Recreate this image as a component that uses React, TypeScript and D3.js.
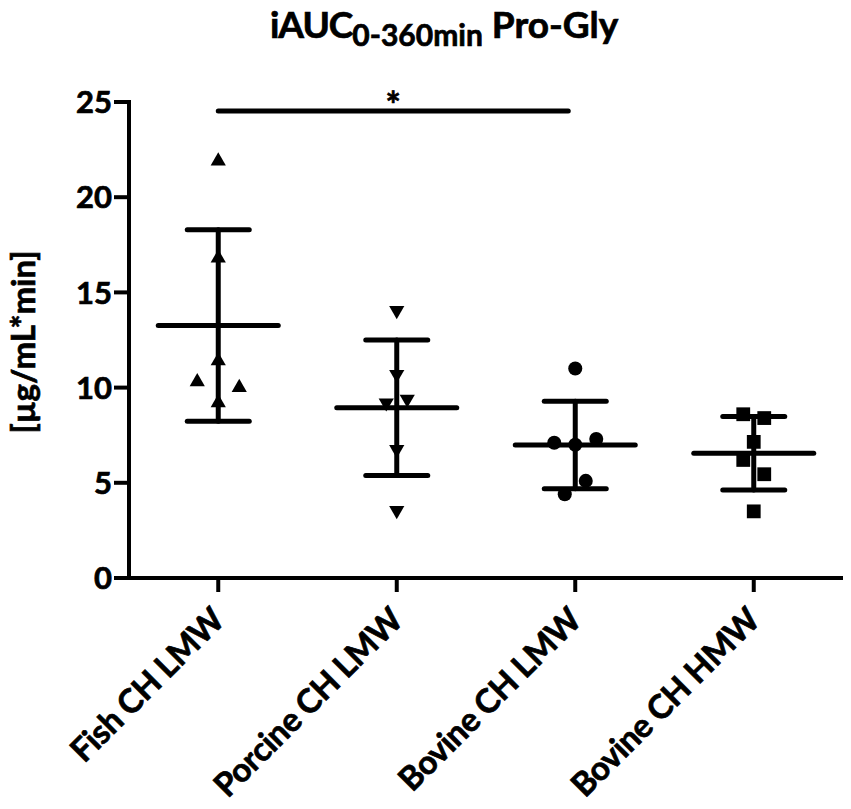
import { useEffect } from "react";
import * as d3 from "d3";

// categories along the x axis
const categories = ["Fish CH LMW", "Porcine CH LMW", "Bovine CH LMW", "Bovine CH HMW"];

// individual values per group (µg/mL*min)
const fishValues = [21.9, 16.8, 11.4, 9.2, 10.3, 10.0];
const porcineValues = [14.05, 10.7, 9.2, 9.4, 6.75, 3.55];
const bovineLmwValues = [11.0, 7.1, 7.0, 7.3, 5.1, 4.4];
const bovineHmwValues = [8.6, 8.4, 7.15, 6.2, 5.45, 3.5];

// scatter column each point sits in (GraphPad dodge)
const fishSlots = [0, 0, 0, 0, -2, 2];
const porcineSlots = [0, 0, -1, 1, 0, 0];
const bovineLmwSlots = [0, -2, 0, 2, 1, -1];
const bovineHmwSlots = [-1, 1, 0, -1, 1, 0];

const yTicks = [0, 5, 10, 15, 20, 25];

const W = 851;
const H = 809;
const FONT = "Lato, 'Open Sans', sans-serif";
// thin outline so Lato Bold gets closer to the heavy Calibri look
const heavy = { stroke: "#000", strokeWidth: 0.7, fill: "#000" };

const groups = [
  { values: fishValues, slots: fishSlots, symbol: d3.symbolTriangle, rotate: 0, size: 100 },
  { values: porcineValues, slots: porcineSlots, symbol: d3.symbolTriangle, rotate: 180, size: 100 },
  { values: bovineLmwValues, slots: bovineLmwSlots, symbol: d3.symbolCircle, rotate: 0, size: 155 },
  { values: bovineHmwValues, slots: bovineHmwSlots, symbol: d3.symbolSquare, rotate: 0, size: 190 },
];

export default function App() {
  useEffect(() => {
    document.body.style.margin = "0";
  }, []);

  const x = d3.scalePoint<string>().domain(categories).range([129, 843]).padding(0.5);
  const y = d3.scaleLinear().domain([0, 25]).range([578, 102]);
  const slotW = 10.5;

  const x0 = x.range()[0];
  const x1 = x.range()[1];
  const yBase = y(0);
  const sigStart = x(categories[0])!;
  const sigEnd = x(categories[2])! - 7;

  return (
    <svg width={W} height={H} style={{ display: "block", background: "#fff" }}>
      {/* title */}
      <text x={270} y={38} fontFamily={FONT} fontWeight={700} fontSize={37} {...heavy}>
        <tspan letterSpacing={-1}>iAUC</tspan>
        <tspan fontSize={30} dy={8}>0-360min</tspan>
        <tspan dy={-8}> Pro-Gly</tspan>
      </text>

      {/* y axis label */}
      <text
        transform={`translate(35,${(y(0) + y(25)) / 2 + 2}) rotate(-90)`}
        textAnchor="middle"
        fontFamily={FONT}
        fontWeight={700}
        fontSize={33}
        {...heavy}
      >
        [µg/mL*min]
      </text>

      {/* y axis */}
      <line x1={x0} x2={x0} y1={y(25) - 2} y2={yBase + 2} stroke="#000" strokeWidth={4} />
      {yTicks.map((t) => (
        <g key={t}>
          <line x1={x0 - 15} x2={x0} y1={y(t)} y2={y(t)} stroke="#000" strokeWidth={4} />
          <text
            x={x0 - 17}
            y={y(t)}
            dy="0.36em"
            textAnchor="end"
            fontFamily={FONT}
            fontWeight={700}
            fontSize={31}
            {...heavy}
          >
            {t}
          </text>
        </g>
      ))}

      {/* x axis */}
      <line x1={x0 - 2} x2={x1} y1={yBase} y2={yBase} stroke="#000" strokeWidth={4} />
      {categories.map((c) => (
        <g key={c}>
          <line x1={x(c)!} x2={x(c)!} y1={yBase} y2={yBase + 14} stroke="#000" strokeWidth={4} />
          <text
            transform={`translate(${x(c)! + 8},${yBase + 44}) rotate(-45)`}
            textAnchor="end"
            fontFamily={FONT}
            fontWeight={700}
            fontSize={33}
            letterSpacing={-0.5}
            {...heavy}
          >
            {c}
          </text>
        </g>
      ))}

      {/* points, mean and SD */}
      {groups.map((g, i) => {
        const cx = x(categories[i])!;
        const mean = d3.mean(g.values)!;
        const sd = d3.deviation(g.values)!;
        const path = d3.symbol(g.symbol, g.size)()!;
        return (
          <g key={i}>
            {g.values.map((v, j) => (
              <path
                key={j}
                d={path}
                transform={`translate(${cx + g.slots[j] * slotW},${y(v)}) rotate(${g.rotate})`}
                fill="#000"
              />
            ))}
            <g stroke="#000" strokeWidth={5} strokeLinecap="round">
              <line x1={cx} x2={cx} y1={y(mean + sd)} y2={y(mean - sd)} />
              <line x1={cx - 31} x2={cx + 31} y1={y(mean + sd)} y2={y(mean + sd)} />
              <line x1={cx - 31} x2={cx + 31} y1={y(mean - sd)} y2={y(mean - sd)} />
              <line x1={cx - 60} x2={cx + 60} y1={y(mean)} y2={y(mean)} />
            </g>
          </g>
        );
      })}

      {/* significance bar */}
      <line
        x1={sigStart}
        x2={sigEnd}
        y1={111}
        y2={111}
        stroke="#000"
        strokeWidth={5}
        strokeLinecap="round"
      />
      <text
        x={(sigStart + sigEnd) / 2}
        y={118}
        textAnchor="middle"
        fontFamily={FONT}
        fontWeight={700}
        fontSize={36}
        {...heavy}
      >
        *
      </text>
    </svg>
  );
}
